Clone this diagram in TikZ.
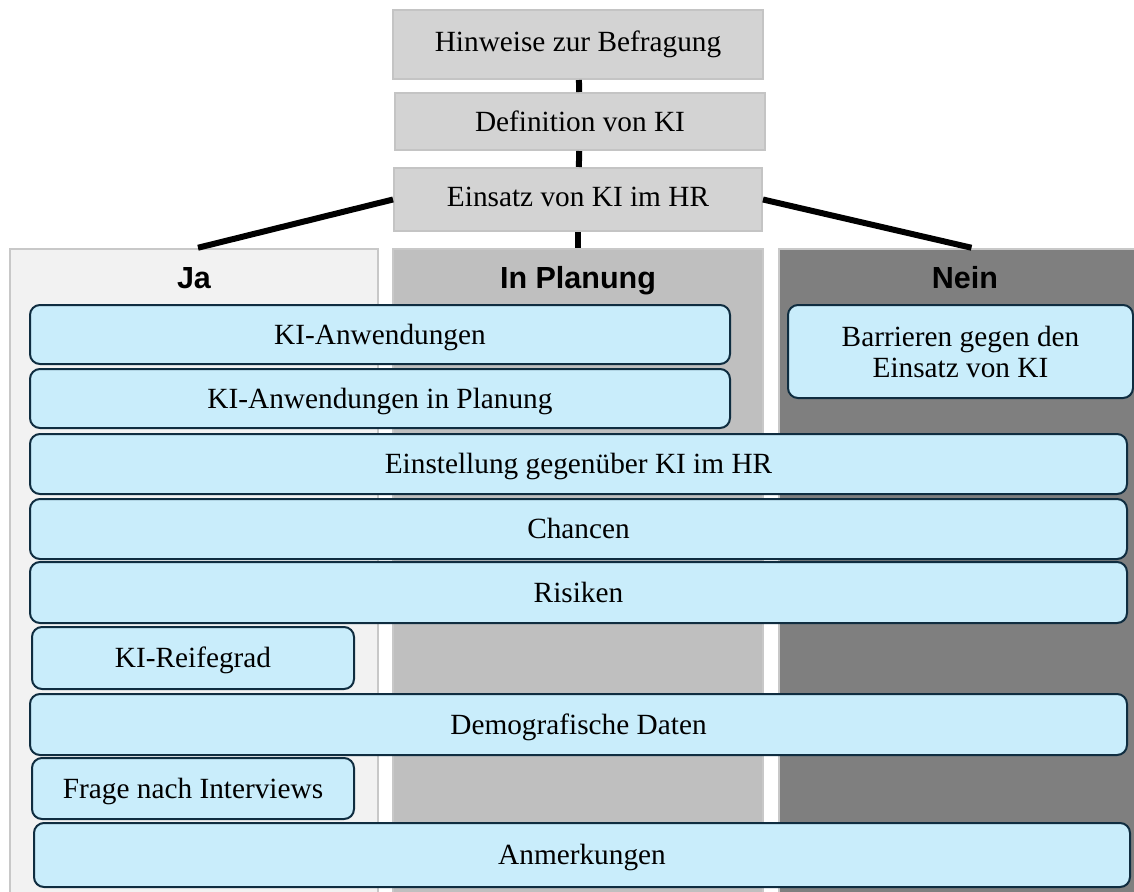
\documentclass[tikz,border=0pt]{standalone}
\usepackage{fontspec}
\setmainfont{Liberation Serif}
\setsansfont{Liberation Sans}
\usepackage{tikz}

\definecolor{topgray}{HTML}{D3D3D3}
\definecolor{topline}{HTML}{C4C4C4}
\definecolor{jafill}{HTML}{F2F2F2}
\definecolor{planfill}{HTML}{BFBFBF}
\definecolor{neinfill}{HTML}{7F7F7F}
\definecolor{colline}{HTML}{C8C8C8}
\definecolor{boxblue}{HTML}{C9EDFB}
\definecolor{boxline}{HTML}{0F2D40}

\begin{document}
\begin{tikzpicture}[x=1pt,y=-1pt,
        txt/.style={font=\fontsize{29.3}{31}\selectfont,text height=26.4pt,text depth=7pt},
        topbox/.style={txt,draw=topline,fill=topgray,line width=2pt,minimum width=#1},
        column/.style={draw=colline,line width=2.5pt,minimum height=656pt,minimum width=#1},
        head/.style={font=\sffamily\bfseries\fontsize{30.5}{32}\selectfont,anchor=base},
        part/.style={txt,draw=boxline,fill=boxblue,line width=2pt,rounded corners=10pt,align=center,minimum width=#1},
        link/.style={line width=6pt}]
        \useasboundingbox[fill=white] (0,0) rectangle (1134,891);
        % columns
        \node[column=368pt,fill=jafill] (ja) at (194,577) {};
        \node[column=370pt,fill=planfill] (planung) at (578,577) {};
        \node[column=385pt,fill=neinfill] (nein) at (971.5,577) {};
        \node[head] (jahead) at (194,288) {Ja};
        \node[head] (planhead) at (578,288) {In Planung};
        \node[head] (neinhead) at (965,288) {Nein};
        % top of the questionnaire
        \node[topbox=370pt,minimum height=69pt,text depth=12pt] (hinweise) at (578,44.5) {Hinweise zur Befragung};
        \node[topbox=370pt,minimum height=57pt] (definition) at (580,121.5) {Definition von KI};
        \node[topbox=368pt,minimum height=63pt,text depth=12pt] (einsatz) at (578,199.5) {Einsatz von KI im HR};
        \draw[link] (hinweise) -- (definition);
        \draw[link] (definition) -- (einsatz);
        \draw[link] (einsatz) -- (planung);
        \draw[link] (einsatz.west) -- ([xshift=4pt]ja.north);
        \draw[link] (einsatz.east) -- (nein.north);
        % question blocks
        \node[part=700pt,minimum height=59pt] (anw) at (380,334.5) {KI-Anwendungen};
        \node[part=700pt,minimum height=59pt] (anwplan) at (380,398.5) {KI-Anwendungen in Planung};
        \node[part=345pt,minimum height=93pt,text height=,text depth=] (barr) at (960.5,351.5) {Barrieren gegen den\\Einsatz von KI};
        \node[part=1097pt,minimum height=60pt] (einst) at (578.5,464) {Einstellung gegenüber KI im HR};
        \node[part=1097pt,minimum height=60pt] (chancen) at (578.5,529) {Chancen};
        \node[part=1097pt,minimum height=61pt] (risiken) at (578.5,592.5) {Risiken};
        \node[part=322pt,minimum height=62pt] (reife) at (193,658) {KI-Reifegrad};
        \node[part=1097pt,minimum height=61pt] (demo) at (578.5,724.5) {Demografische Daten};
        \node[part=322pt,minimum height=61pt] (frage) at (193,788.5) {Frage nach Interviews};
        \node[part=1096pt,minimum height=64pt] (anm) at (582,855) {Anmerkungen};
\end{tikzpicture}
\end{document}
